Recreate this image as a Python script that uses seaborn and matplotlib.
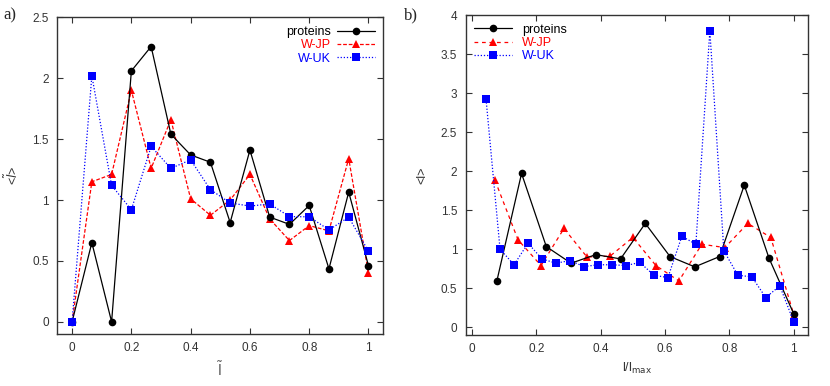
import numpy as np
import pandas as pd
import seaborn as sns
import matplotlib.pyplot as plt

# panel a: 16 bins of normalised length
a_x = [i / 15 for i in range(16)]
a_proteins = [0.0, 0.65, 0.0, 2.06, 2.26, 1.54, 1.37, 1.31, 0.815, 1.41, 0.86, 0.80, 0.955, 0.435, 1.065, 0.46]
a_wjp = [0.0, 1.15, 1.21, 1.90, 1.26, 1.66, 1.01, 0.875, 1.0, 1.21, 0.845, 0.667, 0.79, 0.747, 1.34, 0.40]
a_wuk = [0.0, 2.02, 1.12, 0.92, 1.44, 1.26, 1.33, 1.085, 0.976, 0.95, 0.968, 0.864, 0.862, 0.755, 0.859, 0.58]

# panel b: different bin counts per series
b_x_proteins = [k / 13 for k in range(1, 14)]
b_proteins = [0.59, 1.97, 1.033, 0.82, 0.93, 0.875, 1.33, 0.905, 0.773, 0.905, 1.82, 0.884, 0.17]
b_x_wjp = [k / 14 for k in range(1, 15)]
b_wjp = [1.88, 1.12, 0.79, 1.265, 0.90, 0.91, 1.15, 0.79, 0.593, 1.063, 1.02, 1.33, 1.15, 0.16]
b_x_wuk = [k / 23 for k in range(1, 24)]
b_wuk = [2.92, 1.0, 0.80, 1.076, 0.875, 0.82, 0.854, 0.777, 0.80, 0.80, 0.79, 0.83,
         0.666, 0.636, 1.165, 1.063, 3.80, 0.98, 0.666, 0.645, 0.38, 0.53, 0.068]

series = ['proteins', 'W-JP', 'W-UK']
colors = {'proteins': 'black', 'W-JP': 'red', 'W-UK': 'blue'}
markers = {'proteins': 'o', 'W-JP': '^', 'W-UK': 's'}
msizes = {'proteins': 5.5, 'W-JP': 5.5, 'W-UK': 6}
zorders = {'proteins': 3, 'W-JP': 2, 'W-UK': 4}

sns.set_style('ticks')
plt.rcParams['font.family'] = ['Liberation Sans', 'DejaVu Sans']

df_a = pd.concat([
    pd.DataFrame({'x': a_x, 'y': a_proteins, 'series': 'proteins'}),
    pd.DataFrame({'x': a_x, 'y': a_wjp, 'series': 'W-JP'}),
    pd.DataFrame({'x': a_x, 'y': a_wuk, 'series': 'W-UK'}),
])
df_b = pd.concat([
    pd.DataFrame({'x': b_x_proteins, 'y': b_proteins, 'series': 'proteins'}),
    pd.DataFrame({'x': b_x_wjp, 'y': b_wjp, 'series': 'W-JP'}),
    pd.DataFrame({'x': b_x_wuk, 'y': b_wuk, 'series': 'W-UK'}),
])

fig = plt.figure(figsize=(8.3, 3.86), dpi=100)
ax_a = fig.add_axes([0.069, 0.1347, 0.3928, 0.8205])
ax_b = fig.add_axes([0.561, 0.1321, 0.4128, 0.829])

dashes_a = {'proteins': None, 'W-JP': (3, 1.5), 'W-UK': (1, 1.5)}
dashes_b = {'proteins': None, 'W-JP': (3, 3), 'W-UK': (1, 1.5)}


def draw(ax, df, dashes):
    for s in series:
        sub = df[df['series'] == s]
        sns.lineplot(data=sub, x='x', y='y', ax=ax, color=colors[s], marker=markers[s],
                     markersize=msizes[s], markeredgewidth=0, lw=0.9,
                     sort=False, label=s, zorder=zorders[s])
        line = ax.get_lines()[-1]
        if dashes[s]:
            line.set_dashes(dashes[s])


draw(ax_a, df_a, dashes_a)
draw(ax_b, df_b, dashes_b)

for ax in (ax_a, ax_b):
    ax.set_xticks([0, 0.2, 0.4, 0.6, 0.8, 1])
    ax.set_xticklabels(['0', '0.2', '0.4', '0.6', '0.8', '1'])
    ax.tick_params(direction='in', top=True, right=True, length=4, width=0.8,
                   labelsize=8.5, labelcolor='#333333', color='#333333', pad=6)
    for sp in ax.spines.values():
        sp.set_linewidth(1.0)
        sp.set_color('#333333')

ax_a.set_xlim(-0.05, 1.05)
ax_a.set_ylim(-0.1, 2.5)
ax_a.set_yticks([0, 0.5, 1, 1.5, 2, 2.5])
ax_a.set_yticklabels(['0', '0.5', '1', '1.5', '2', '2.5'])
ax_a.set_xlabel(r'$\tilde{\mathrm{l}}$', fontsize=10, color='#555555', labelpad=4)
ax_a.set_ylabel(r'<$\tilde{l}$>', fontsize=9, color='#333333', labelpad=8)

ax_b.set_xlim(-0.02, 1.045)
ax_b.set_ylim(-0.1, 4)
ax_b.set_yticks([0, 0.5, 1, 1.5, 2, 2.5, 3, 3.5, 4])
ax_b.set_yticklabels(['0', '0.5', '1', '1.5', '2', '2.5', '3', '3.5', '4'])
ax_b.set_xlabel(r'l/l$_{\mathrm{max}}$', fontsize=9, color='#333333', labelpad=4)
ax_b.set_ylabel('<l>', fontsize=9, color='#333333', labelpad=9)

ax_a.legend(loc='upper right', frameon=False, markerfirst=False, labelcolor='linecolor',
            fontsize=9, handlelength=3, handletextpad=0.5, labelspacing=0.1,
            borderaxespad=0.3)
ax_b.legend(loc='upper left', frameon=False, markerfirst=True, labelcolor='linecolor',
            fontsize=9, handlelength=3, handletextpad=0.8, labelspacing=0.1,
            borderaxespad=0.3)

fig.text(0.004, 0.96, 'a)', fontsize=12, family='Liberation Serif', va='center')
fig.text(0.487, 0.96, 'b)', fontsize=12, family='Liberation Serif', va='center')

fig.savefig('out.png', dpi=100)
